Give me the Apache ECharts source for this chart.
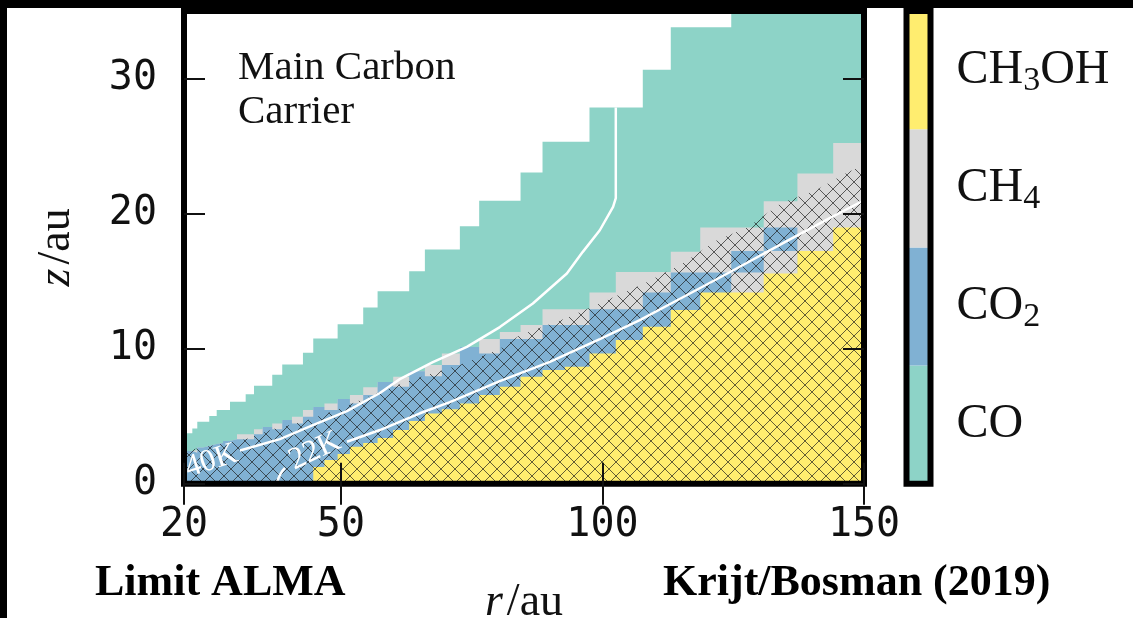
<!DOCTYPE html>
<html>
<head>
<meta charset="utf-8">
<script src="https://cdn.jsdelivr.net/npm/echarts@6/dist/echarts.min.js"></script>
<style>
  html, body { margin: 0; padding: 0; background: #ffffff; }
  #chart { width: 1133px; height: 618px; }
</style>
</head>
<body>
<div id="chart"></div>
<script>
// Radial cell edges of the model grid (au)
const rEdges = [20, 21.59, 22.54, 23.63, 24.83, 26.25, 27.45, 28.79, 30.13, 31.79, 33.38,
  35.04, 36.87, 38.78, 40.64, 42.74, 44.71, 46.85, 49.37, 51.72, 54.26, 57.01, 59.99,
  63.05, 66.05, 69.30, 72.74, 76.43, 80.38, 84.34, 88.54, 92.80, 97.52, 102.55, 107.71,
  113.06, 118.69, 124.62, 130.83, 137.27, 144.11, 150];

// Upper height (au) of each carrier zone, one value per radial cell
const coTop = [3.74, 4.10, 4.59, 4.59, 5.01, 5.46, 5.46, 6.07, 6.07, 6.62, 7.26, 7.26, 8.08,
  8.84, 8.84, 9.71, 10.76, 10.76, 11.82, 11.82, 13.05, 14.26, 14.26, 15.74, 17.34, 17.34,
  19.07, 20.95, 20.95, 23.04, 25.32, 25.32, 27.85, 27.85, 30.66, 33.79, 33.79, 35, 35, 35, 35];
const ch4Top = [2.43, 2.50, 2.68, 2.80, 2.94, 3.02, 3.17, 3.29, 3.66, 3.66, 4.03, 4.20, 4.47,
  4.72, 4.96, 5.46, 5.68, 5.95, 6.27, 6.57, 7.14, 7.53, 7.92, 8.34, 8.79, 9.65, 10.12, 10.71,
  11.23, 11.75, 12.93, 12.93, 14.16, 15.67, 15.67, 17.17, 18.97, 18.97, 20.92, 22.97, 25.23];
const co2Top = [2.43, 2.30, 2.68, 2.80, 2.94, 3.02, 3.17, 3.29, 3.29, 3.29, 3.66, 4.20, 4.03,
  4.72, 4.47, 4.96, 5.68, 5.46, 6.27, 5.95, 6.57, 7.53, 7.18, 8.34, 7.97, 8.79, 10.12, 9.65,
  10.71, 10.71, 11.75, 11.75, 12.93, 12.93, 14.16, 15.64, 15.64, 17.24, 18.97, 0, 0];
// CH4 cells lying underneath CO2 cells
const ch4Under = [0, 0, 0, 0, 0, 0, 0, 0, 0, 0, 0, 0, 0, 0, 0, 0, 0, 0, 0, 0, 0, 0, 0, 0, 0,
  0, 0, 0, 0, 0, 0, 0, 0, 0, 0, 0, 0, 15.64, 17.24, 0, 0];
const ch3ohTop = [0, 0, 0, 0, 0, 0, 0, 0, 0, 0, 0, 0, 0, 0, 0, 0, 1.24, 1.76, 2.20, 2.74,
  3.02, 3.39, 3.98, 4.64, 5.21, 5.51, 5.95, 6.57, 7.18, 7.92, 8.42, 8.66, 9.65, 10.64, 11.62,
  12.86, 14.16, 14.16, 15.57, 17.24, 18.97];

// Upper edge of the hatched zone [r, z]
const hatchEdge = [[20, 2.43], [31.8, 3.29], [36.9, 4.03], [42.7, 4.6], [49.4, 5.5], [54.3, 6.3],
  [60, 7.2], [66, 8.0], [72.7, 8.8], [80.4, 10.0], [84.2, 11.0], [93.0, 12.26], [100.1, 13.45],
  [108.1, 14.85], [115.7, 16.4], [121.7, 18.0], [127.8, 19.0], [134.1, 20.77], [140.8, 21.73],
  [146.9, 23.06], [150, 23.58]];

// Temperature contours [r, z]
const contour40K = [[30.70, 2.46], [38.34, 3.31], [44.65, 4.35], [51.15, 5.38], [57.45, 6.72],
  [61.27, 7.75], [67.58, 9.01], [74.08, 10.14], [80.38, 11.60], [86.69, 13.35], [93.19, 15.57],
  [96.24, 17.17], [99.49, 18.77], [102.03, 20.50], [102.55, 21.14], [102.55, 27.85]];
const contour22KLow = [[37.77, 0.06], [38.4, 0.7], [39.30, 1.17]];
const contour22KHigh = [[51.15, 3.11], [57.45, 3.98], [65.10, 5.22], [70.83, 6.05], [80.38, 7.60],
  [89.94, 9.03], [99.49, 10.71], [107.13, 12.12], [114.20, 13.57], [124.33, 15.66],
  [135.22, 17.96], [143.44, 19.66], [150, 20.99]];
const contourLabels = [
  { name: '40K', value: [25.25, 1.69], angle: 18 },
  { name: '22K', value: [45.03, 2.43], angle: 25 }
];

const xTicks = [20, 50, 100, 150];
const yTicks = [0, 10, 20, 30];
const species = ['CO', 'CO2', 'CH4', 'CH3OH'];
const speciesColors = ['#8dd3c7', '#80b1d3', '#d9d9d9', '#ffed6f'];

const serif = '"Liberation Serif", "DejaVu Serif", serif';
const mono = '"DejaVu Sans Mono", monospace';
const ink = '#111111';

// staircase points: level i spans rEdges[i]..rEdges[i+1]
function stairs(levels) {
  const pts = levels.map((z, i) => [rEdges[i], z]);
  pts.push([rEdges[levels.length], levels[levels.length - 1]]);
  return pts;
}

function zone(name, levels, color) {
  return {
    type: 'line', name, data: stairs(levels), step: 'end',
    xAxisIndex: 0, yAxisIndex: 0,
    symbol: 'none', showSymbol: false, silent: true,
    lineStyle: { width: 0, opacity: 0 },
    areaStyle: { color, opacity: 1 },
    z: 2
  };
}

// cross-hatch tile
function hatchTile() {
  const s = 14;
  const c = document.createElement('canvas');
  c.width = s; c.height = s;
  const g = c.getContext('2d');
  g.strokeStyle = 'rgba(25,25,25,0.68)';
  g.lineWidth = 1;
  g.beginPath();
  g.moveTo(-2, -2); g.lineTo(s + 2, s + 2);
  g.moveTo(s + 2, -2); g.lineTo(-2, s + 2);
  g.stroke();
  return c;
}

function chemLabel(v) {
  return v.replace(/([A-Z]+)/g, '{n|$1}').replace(/(\d)/g, '{s|$1}');
}

const chart = echarts.init(document.getElementById('chart'), null, { width: 1133, height: 618 });

const mainAxisCommon = {
  type: 'value', gridIndex: 0, min: 0, max: 1, z: 11,
  axisLine: { show: false }, splitLine: { show: false },
  axisTick: { show: true, inside: true, length: 21, lineStyle: { color: ink, width: 2 } }
};

chart.setOption({
  animation: false,
  backgroundColor: '#ffffff',
  grid: [
    { left: 184, top: 11, width: 680, height: 472.8, show: true, z: 10,
      borderColor: '#000', borderWidth: 6, backgroundColor: 'transparent',
      containLabel: false, outerBoundsMode: 'none' },
    { left: 906.5, top: 11, width: 24, height: 472.8, show: true, z: 10,
      borderColor: '#000', borderWidth: 6, backgroundColor: 'transparent',
      containLabel: false, outerBoundsMode: 'none' }
  ],
  xAxis: [
    Object.assign({}, mainAxisCommon, {
      position: 'bottom', min: 20, max: 150,
      axisTick: Object.assign({}, mainAxisCommon.axisTick, { customValues: xTicks }),
      axisLabel: { customValues: xTicks, fontFamily: mono, fontSize: 40, color: ink, margin: 22 },
      name: '{i|r}{n|/au}', nameLocation: 'middle', nameGap: 96,
      nameTextStyle: { rich: {
        i: { fontFamily: serif, fontStyle: 'italic', fontSize: 46, color: ink, padding: [0, 4, 0, 0] },
        n: { fontFamily: serif, fontSize: 46, color: ink }
      } }
    }),
    Object.assign({}, mainAxisCommon, {
      position: 'top', min: 20, max: 150,
      axisTick: Object.assign({}, mainAxisCommon.axisTick, { customValues: xTicks }),
      axisLabel: { show: false }
    }),
    { type: 'value', gridIndex: 1, min: 0, max: 1, show: false }
  ],
  yAxis: [
    Object.assign({}, mainAxisCommon, {
      position: 'left', min: 0, max: 35,
      axisTick: Object.assign({}, mainAxisCommon.axisTick, { customValues: yTicks }),
      axisLabel: { customValues: yTicks, fontFamily: mono, fontSize: 40, color: ink, margin: 27 },
      name: '{i|z}{n|/au}', nameLocation: 'middle', nameGap: 104, nameRotate: 90,
      nameTextStyle: { rich: {
        i: { fontFamily: serif, fontStyle: 'italic', fontSize: 46, color: ink, padding: [0, 4, 0, 0] },
        n: { fontFamily: serif, fontSize: 46, color: ink }
      } }
    }),
    Object.assign({}, mainAxisCommon, {
      position: 'right', min: 0, max: 35,
      axisTick: Object.assign({}, mainAxisCommon.axisTick, { customValues: yTicks }),
      axisLabel: { show: false }
    }),
    {
      type: 'category', gridIndex: 1, position: 'right', data: species,
      axisLine: { show: false }, axisTick: { show: false }, splitLine: { show: false },
      axisLabel: {
        margin: 26, formatter: chemLabel,
        rich: {
          n: { fontFamily: serif, fontSize: 48, lineHeight: 56, color: ink },
          s: { fontFamily: serif, fontSize: 34, lineHeight: 32, verticalAlign: 'bottom', color: ink }
        }
      }
    }
  ],
  series: [
    zone('CO', coTop, speciesColors[0]),
    zone('CH4', ch4Top, speciesColors[2]),
    zone('CO2', co2Top, speciesColors[1]),
    zone('CH4 below CO2', ch4Under, speciesColors[2]),
    zone('CH3OH', ch3ohTop, speciesColors[3]),
    {
      type: 'line', name: 'hatch', data: hatchEdge, xAxisIndex: 0, yAxisIndex: 0,
      symbol: 'none', showSymbol: false, silent: true,
      lineStyle: { width: 0, opacity: 0 },
      areaStyle: { color: { image: hatchTile(), repeat: 'repeat' }, opacity: 1 },
      z: 3
    },
    {
      type: 'line', name: '40K', data: contour40K, xAxisIndex: 0, yAxisIndex: 0,
      symbol: 'none', showSymbol: false, silent: true,
      lineStyle: { color: '#ffffff', width: 2.5 }, z: 4
    },
    {
      type: 'line', name: '22K low', data: contour22KLow, xAxisIndex: 0, yAxisIndex: 0,
      symbol: 'none', showSymbol: false, silent: true, smooth: true,
      lineStyle: { color: '#ffffff', width: 2.5 }, z: 4
    },
    {
      type: 'line', name: '22K', data: contour22KHigh, xAxisIndex: 0, yAxisIndex: 0,
      symbol: 'none', showSymbol: false, silent: true,
      lineStyle: { color: '#ffffff', width: 2.5 }, z: 4
    },
    {
      type: 'scatter', name: 'contour labels', xAxisIndex: 0, yAxisIndex: 0,
      data: contourLabels.map(d => ({ name: d.name, value: d.value,
        label: { rotate: d.angle } })),
      symbolSize: 2, itemStyle: { color: 'rgba(0,0,0,0)' }, silent: true, z: 5,
      labelLayout: { hideOverlap: false },
      label: { show: true, position: 'inside', formatter: '{b}', color: '#ffffff',
        fontFamily: serif, fontSize: 31, opacity: 1 }
    },
    {
      type: 'bar', name: 'carrier scale', xAxisIndex: 2, yAxisIndex: 2,
      data: species.map((s, i) => ({ value: 1, itemStyle: { color: speciesColors[i] } })),
      barWidth: '100%', barCategoryGap: '0%', silent: true, z: 2
    }
  ],
  graphic: [
    { type: 'rect', shape: { x: 0, y: 0, width: 1133, height: 8 }, style: { fill: '#000' }, z: 20 },
    { type: 'rect', shape: { x: 0, y: 0, width: 7, height: 618 }, style: { fill: '#000' }, z: 20 },
    { type: 'text', x: 238, y: 46, z: 20,
      style: { text: 'Main Carbon\nCarrier', fill: ink, font: '41px ' + serif, lineHeight: 44 } },
    { type: 'text', x: 95, y: 562, z: 20,
      style: { text: 'Limit ALMA', fill: '#000', font: 'bold 44px ' + serif } },
    { type: 'text', x: 663, y: 562, z: 20,
      style: { text: 'Krijt/Bosman (2019)', fill: '#000', font: 'bold 44px ' + serif } }
  ]
});
</script>
</body>
</html>
